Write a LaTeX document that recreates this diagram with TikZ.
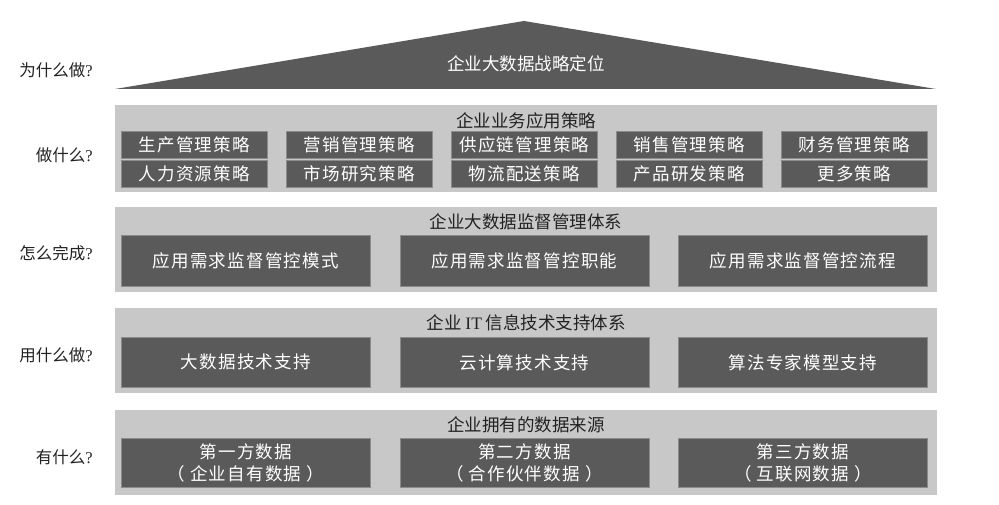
\documentclass[tikz,border=0pt]{standalone}
\usepackage{fontspec}
\setmainfont{Liberation Serif}
\newfontfamily\cjk{Noto Sans CJK SC}
\newfontfamily\cjkwide[LetterSpace=7]{Noto Sans CJK SC}
\usetikzlibrary{positioning}
\definecolor{BoxGray}{HTML}{5A5A5A}
\definecolor{BandGray}{HTML}{C8C8C8}
\definecolor{EdgeGray}{HTML}{8C8C8C}
\definecolor{TextDark}{HTML}{222222}

\begin{document}
\begin{tikzpicture}[
  x=1pt, y=-1pt,
  band/.style={fill=BandGray, draw=none, anchor=north west, minimum width=822pt, inner sep=0pt},
  cell/.style={fill=BoxGray, draw=EdgeGray, line width=0.7pt, text=white, anchor=north west, inner sep=0pt, align=center, font=\fontsize{17.5}{22}\cjkwide},
  bandtitle/.style={font=\fontsize{17.5}{20}\cjk, text=TextDark, inner sep=0pt},
  ask/.style={font=\fontsize{16.5}{20}\cjk, text=TextDark, anchor=east, inner sep=0pt},
]
  \useasboundingbox (0,0) rectangle (999,505);

  % roof
  \fill[BoxGray] (115,89) coordinate (rl) -- (524,21) coordinate (rt) -- (936,89) coordinate (rr) -- cycle;
  \node[font=\fontsize{17.5}{20}\cjk, text=white] (roof) at (526,64) {企业大数据战略定位};

  % bands
  \node[band, minimum height=87pt] (b1) at (115,105) {};
  \node[band, minimum height=85pt] (b2) at (115,207) {};
  \node[band, minimum height=85pt] (b3) at (115,308) {};
  \node[band, minimum height=85pt] (b4) at (115,410) {};

  \node[bandtitle, below=7pt of b1.north] (t1) {企业业务应用策略};
  \node[bandtitle, below=6pt of b2.north] (t2) {企业大数据监督管理体系};
  \node[bandtitle, below=6pt of b3.north] (t3) {企业 {\rmfamily IT} 信息技术支持体系};
  \node[bandtitle, below=6pt of b4.north] (t4) {企业拥有的数据来源};

  % strategies
  \foreach \i/\top/\bot in {0/生产管理策略/人力资源策略, 1/营销管理策略/市场研究策略, 2/供应链管理策略/物流配送策略, 3/销售管理策略/产品研发策略, 4/财务管理策略/更多策略} {
    \node[cell, minimum width=146pt, minimum height=27pt] (s\i a) at ({121+165*\i},131) {\top};
    \node[cell, minimum width=146pt, minimum height=27pt] (s\i b) at ({121+165*\i},160) {\bot};
  }

  % supervision, IT, data
  \foreach \i/\txt in {0/应用需求监督管控模式, 1/应用需求监督管控职能, 2/应用需求监督管控流程} {
    \node[cell, minimum width=249pt, minimum height=51pt] (m\i) at ({121+278.5*\i},235) {\txt};
  }
  \foreach \i/\txt in {0/大数据技术支持, 1/云计算技术支持, 2/算法专家模型支持} {
    \node[cell, minimum width=249pt, minimum height=50pt] (it\i) at ({121+278.5*\i},337) {\txt};
  }
  \foreach \i/\txt in {0/{第一方数据\\（ 企业自有数据 ）}, 1/{第二方数据\\（ 合作伙伴数据 ）}, 2/{第三方数据\\（ 互联网数据 ）}} {
    \node[cell, minimum width=249pt, minimum height=49pt] (d\i) at ({121+278.5*\i},438) {\txt};
  }

  % questions
  \node[ask] (q1) at (93,70) {为什么做{\rmfamily ?}};
  \node[ask] (q2) at (93,155) {做什么{\rmfamily ?}};
  \node[ask] (q3) at (93,253) {怎么完成{\rmfamily ?}};
  \node[ask] (q4) at (93,355) {用什么做{\rmfamily ?}};
  \node[ask] (q5) at (93,457) {有什么{\rmfamily ?}};
\end{tikzpicture}
\end{document}
